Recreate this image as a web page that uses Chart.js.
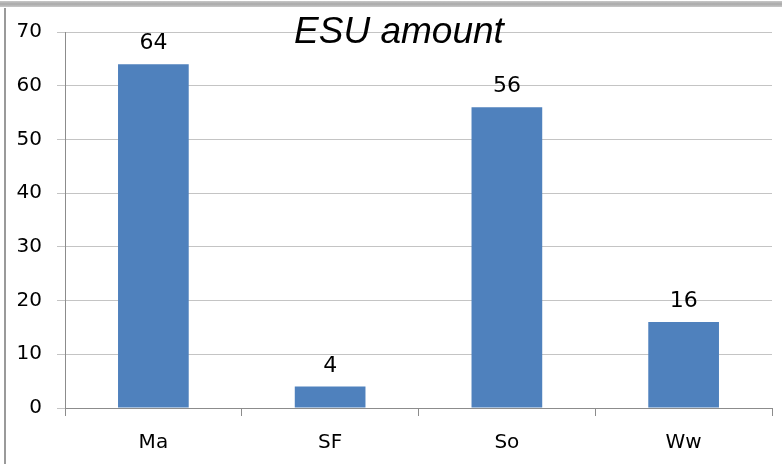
<!DOCTYPE html>
<html>
<head>
<meta charset="utf-8">
<script src="https://cdn.jsdelivr.net/npm/chart.js@4/dist/chart.umd.min.js"></script>
<style>
  html, body { margin: 0; padding: 0; background: #ffffff; }
  #wrap { position: relative; width: 782px; height: 464px; overflow: hidden; }
  #topEdge { position: absolute; left: 0; top: 1px; width: 782px; height: 6px;
             background: linear-gradient(#c8c8c8, #a9a9a9 50%, #c8c8c8); }
  #leftEdge { position: absolute; left: 4px; top: 8px; width: 2px; height: 456px; background: #9a9a9a; }
  canvas { position: absolute; left: 0; top: 0; }
</style>
</head>
<body>
<div id="wrap">
  <canvas id="chart" width="782" height="464"></canvas>
  <div id="topEdge"></div>
  <div id="leftEdge"></div>
</div>
<script>
// Categories and ESU counts
const categories = ['Ma', 'SF', 'So', 'Ww'];
const esuAmount = [64, 4, 56, 16];
const yTicks = [0, 10, 20, 30, 40, 50, 60, 70];

const FONT = '"DejaVu Sans", sans-serif';

// Writes each bar's value above it
const valueLabels = {
  id: 'valueLabels',
  afterDatasetsDraw(chart) {
    const { ctx } = chart;
    const meta = chart.getDatasetMeta(0);
    ctx.save();
    ctx.font = '22px ' + FONT;
    ctx.fillStyle = '#000000';
    ctx.textAlign = 'center';
    ctx.textBaseline = 'alphabetic';
    meta.data.forEach((bar, i) => {
      ctx.fillText(String(chart.data.datasets[0].data[i]), bar.x, bar.y - 15);
    });
    ctx.restore();
  }
};

// Title laid over the top of the plot area
const overlayTitle = {
  id: 'overlayTitle',
  afterDraw(chart) {
    const { ctx } = chart;
    ctx.save();
    ctx.font = 'italic 37px "Liberation Sans", Arial, sans-serif';
    ctx.fillStyle = '#000000';
    ctx.textAlign = 'center';
    ctx.textBaseline = 'alphabetic';
    ctx.fillText('ESU amount', 399, 43);
    ctx.restore();
  }
};

new Chart(document.getElementById('chart'), {
  type: 'bar',
  data: {
    labels: categories,
    datasets: [{
      data: esuAmount,
      backgroundColor: '#4F81BD',
      borderWidth: 0,
      categoryPercentage: 1,
      barPercentage: 0.4
    }]
  },
  options: {
    responsive: false,
    animation: false,
    devicePixelRatio: 1,
    layout: { padding: { left: 0, right: 10, top: 32, bottom: 0 } },
    plugins: {
      legend: { display: false },
      tooltip: { enabled: false },
      title: { display: false }
    },
    scales: {
      x: {
        grid: {
          offset: true,
          drawOnChartArea: false,
          drawTicks: true,
          tickLength: 8,
          color: '#8c8c8c'
        },
        border: { color: '#8c8c8c', width: 1 },
        ticks: {
          font: { family: FONT, size: 20 },
          color: '#000000',
          padding: 15
        },
        afterFit(scale) { scale.height = 56; }
      },
      y: {
        min: 0,
        max: 70,
        afterBuildTicks(scale) { scale.ticks = yTicks.map(v => ({ value: v })); },
        grid: {
          color: '#c4c4c4',
          tickLength: 8,
          drawTicks: true
        },
        border: { color: '#8c8c8c', width: 1 },
        ticks: {
          font: { family: FONT, size: 20 },
          color: '#000000',
          padding: 15
        },
        afterFit(scale) { scale.width = 65; }
      }
    }
  },
  plugins: [valueLabels, overlayTitle]
});
</script>
</body>
</html>
